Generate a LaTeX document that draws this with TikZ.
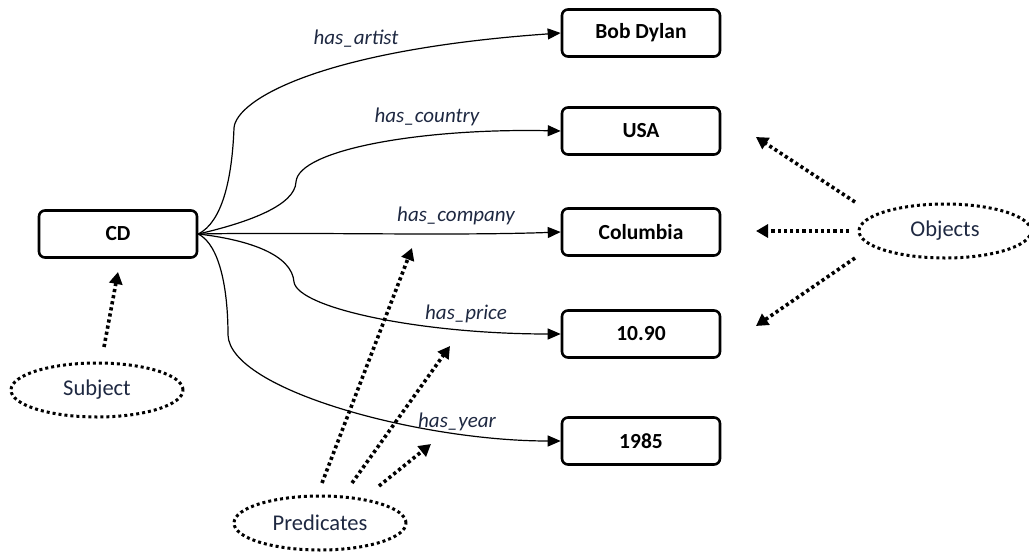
\documentclass[tikz,border=0pt]{standalone}
\usepackage{fontspec}
\setmainfont{Carlito}
\usetikzlibrary{arrows.meta,shapes.geometric}
\definecolor{lbl}{RGB}{30,40,65}
\begin{document}
\begin{tikzpicture}[x=1pt,y=-1pt,
  box/.style={draw,line width=2.6pt,rounded corners=6pt,minimum width=158pt,minimum height=47pt,inner sep=0pt,font=\fontsize{21.5}{21.5}\selectfont\bfseries},
  oval/.style={draw,ellipse,line width=3pt,dash pattern=on 3pt off 3pt,minimum width=172pt,minimum height=54pt,inner sep=0pt,text=lbl,font=\fontsize{22.5}{22.5}\selectfont},
  rel/.style={line width=1.2pt,-{Triangle[length=13pt,width=11pt]}},
  hint/.style={line width=3.6pt,dash pattern=on 3.2pt off 3pt,-{Triangle[length=12pt,width=13pt]}},
  pl/.style={font=\fontsize{21}{21}\selectfont\itshape,text=lbl}]
\useasboundingbox (0,0) rectangle (1029,552);
\node[box] (cd) at (118,234) {CD};
\node[box] (bob) at (641,33) {Bob Dylan};
\node[box] (usa) at (641,131) {USA};
\node[box] (col) at (641,232) {Columbia};
\node[box] (pr) at (641,334) {10.90};
\node[box] (yr) at (641,441) {1985};
\node[oval] (subj) at (97,390) {Subject};
\node[oval] (pred) at (320,523) {Predicates};
\node[oval] (obj) at (945,231) {Objects};
% relations
\draw[rel] (cd.east) .. controls (222,222) and (232,180) .. (234,128) .. controls (236,100) and (320,50) .. (bob.west);
\draw[rel] (cd.east) .. controls (250,222) and (295,205) .. (296,182) .. controls (298,150) and (420,128) .. (usa.west);
\draw[rel] (cd.east) .. controls (300,232) and (450,236) .. (col.west);
\draw[rel] (cd.east) .. controls (250,240) and (292,255) .. (294,282) .. controls (298,308) and (420,334) .. (pr.west);
\draw[rel] (cd.east) .. controls (220,245) and (228,290) .. (228,335) .. controls (230,390) and (420,441) .. (yr.west);
\node[pl] (l1) at (356,39) {has\_artist};
\node[pl] (l2) at (427,117) {has\_country};
\node[pl] (l3) at (456,216) {has\_company};
\node[pl] (l4) at (466,314) {has\_price};
\node[pl] (l5) at (457,422) {has\_year};
% hint arrows
\coordinate (s0) at (104,347); \coordinate (s1) at (118,272);
\draw[hint] (s0) -- (s1);
\coordinate (p0) at (322,483); \coordinate (p1) at (412,248);
\coordinate (p2) at (352,483); \coordinate (p3) at (450,346);
\coordinate (p4) at (379,486); \coordinate (p5) at (431,444);
\draw[hint] (p0) -- (p1);
\draw[hint] (p2) -- (p3);
\draw[hint] (p4) -- (p5);
\coordinate (o0) at (855,202); \coordinate (o1) at (756,137);
\coordinate (o2) at (849,231); \coordinate (o3) at (756,231);
\coordinate (o4) at (855,258); \coordinate (o5) at (756,326);
\draw[hint] (o0) -- (o1);
\draw[hint] (o2) -- (o3);
\draw[hint] (o4) -- (o5);
\end{tikzpicture}
\end{document}
